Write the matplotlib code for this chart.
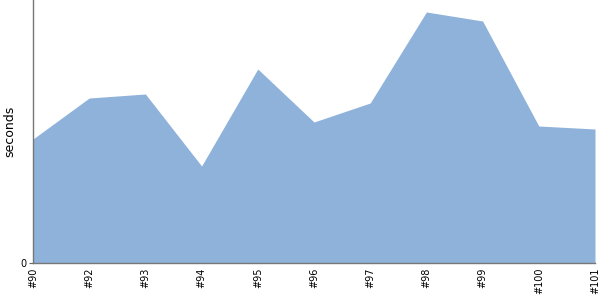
import matplotlib
matplotlib.use("Agg")
import matplotlib.pyplot as plt

labels = ["#90", "#92", "#93", "#94", "#95", "#96", "#97", "#98", "#99", "#100", "#101"]
values = [124, 165, 169, 97, 194, 141, 160, 251, 242, 137, 134]

fig = plt.figure(figsize=(6, 3), dpi=100)
ax = fig.add_axes([33/600, 37/300, 562/600, 263/300])
x = list(range(len(labels)))
ax.fill_between(x, values, 0, color="#8fb2da", linewidth=0)
ax.set_xlim(0, len(labels) - 1)
ax.set_ylim(0, 263)
ax.set_xticks(x)
ax.set_xticklabels(labels, rotation=90, fontsize=7)
ax.tick_params(axis="x", length=0, pad=3)
ax.set_yticks([0])
ax.set_yticklabels(["0"], fontsize=7)
ax.tick_params(axis="y", length=3, color="#666666", pad=2)
ax.set_ylabel("seconds", fontsize=9, va="center")
ax.yaxis.set_label_coords(-23/562, 0.5)
for s in ["top", "right"]:
    ax.spines[s].set_visible(False)
for s in ["left", "bottom"]:
    ax.spines[s].set_color("#777777")
    ax.spines[s].set_linewidth(1)
fig.savefig("out.png", dpi=100)
